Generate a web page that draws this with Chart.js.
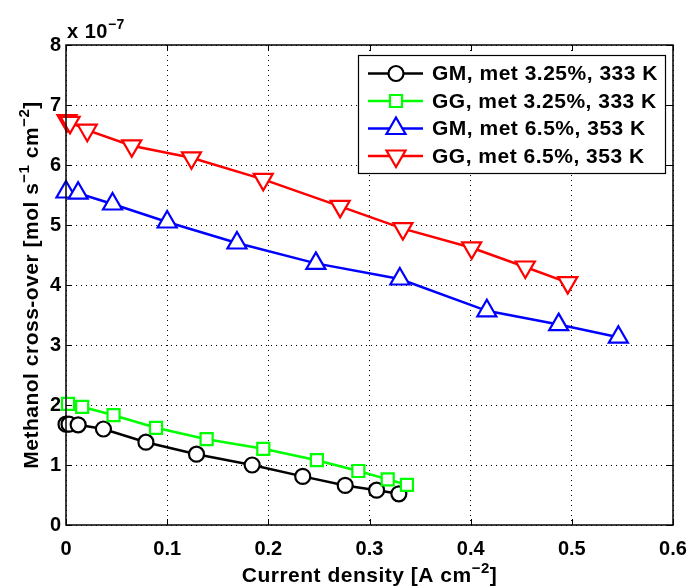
<!DOCTYPE html>
<html>
<head>
<meta charset="utf-8">
<script src="https://cdn.jsdelivr.net/npm/chart.js@4/dist/chart.umd.min.js"></script>
<style>
  body { margin: 0; background: #fff; }
  canvas { display: block; }
</style>
</head>
<body>
<canvas id="crossover" width="690" height="588"></canvas>
<script>
// Series labels
const seriesLabels = ["GM, met 3.25%, 333 K", "GG, met 3.25%, 333 K", "GM, met 6.5%, 353 K", "GG, met 6.5%, 353 K"];

// Current density [A cm^-2] per series
const gmLowX  = [0, 0.003, 0.012, 0.037, 0.079, 0.129, 0.184, 0.234, 0.276, 0.307, 0.329];
const ggLowX  = [0.002, 0.016, 0.047, 0.089, 0.139, 0.195, 0.248, 0.289, 0.318, 0.337];
const gmHighX = [0, 0.012, 0.046, 0.100, 0.169, 0.247, 0.330, 0.416, 0.487, 0.546];
const ggHighX = [0.001, 0.004, 0.021, 0.065, 0.124, 0.195, 0.271, 0.333, 0.401, 0.454, 0.496];

// Methanol cross-over (x 1e-7 mol s^-1 cm^-2)
const gmLowY  = [1.68, 1.68, 1.67, 1.60, 1.38, 1.18, 1.00, 0.81, 0.66, 0.58, 0.52];
const ggLowY  = [2.02, 1.97, 1.83, 1.62, 1.43, 1.27, 1.08, 0.90, 0.76, 0.67];
const gmHighY = [5.55, 5.53, 5.35, 5.05, 4.70, 4.36, 4.10, 3.57, 3.34, 3.13];
const ggHighY = [6.74, 6.71, 6.58, 6.32, 6.12, 5.76, 5.31, 4.94, 4.62, 4.30, 4.04];

// Axis ticks
const xTicks = [0, 0.1, 0.2, 0.3, 0.4, 0.5, 0.6];
const yTicks = [0, 1, 2, 3, 4, 5, 6, 7, 8];

const FONT = "'Liberation Sans', Arial, sans-serif";

function pts(xs, ys) {
    return xs.map((x, i) => ({ x: x, y: ys[i] }));
}

function series(label, xs, ys, color, style, radius, rotation, order) {
    return {
        label: label,
        data: pts(xs, ys),
        borderColor: color,
        backgroundColor: "#fff",
        borderWidth: 2.5,
        pointStyle: style,
        pointRadius: radius,
        pointRotation: rotation,
        pointBorderWidth: 2.2,
        pointBackgroundColor: "#fff",
        pointBorderColor: color,
        tension: 0,
        clip: false,
        order: order
    };
}

const datasets = [
    series(seriesLabels[0], gmLowX, gmLowY, "#000000", "circle", 7.5, 0, 3),
    series(seriesLabels[1], ggLowX, ggLowY, "#00ff00", "rect", 8.5, 0, 2),
    series(seriesLabels[2], gmHighX, gmHighY, "#0000ff", "triangle", 11, 0, 1),
    series(seriesLabels[3], ggHighX, ggHighY, "#ff0000", "triangle", 11, 180, 0)
];

// text with raised superscripts: parts = [[text, isSup], ...]
function partsWidth(ctx, parts, size) {
    let w = 0;
    parts.forEach(p => {
        ctx.font = "bold " + (p[1] ? Math.round(size * 0.7) : size) + "px " + FONT;
        w += ctx.measureText(p[0]).width;
    });
    return w;
}

function drawParts(ctx, parts, size, x, y) {
    parts.forEach(p => {
        ctx.font = "bold " + (p[1] ? Math.round(size * 0.7) : size) + "px " + FONT;
        ctx.fillText(p[0], x, p[1] ? y - size * 0.45 : y);
        x += ctx.measureText(p[0]).width;
    });
}

// Box, inward ticks, titles, exponent and legend, drawn like a MATLAB axes
const matlabFrame = {
    id: "matlabFrame",
    afterDraw(chart) {
        const ctx = chart.ctx;
        const a = chart.chartArea;
        const xs = chart.scales.x, ys = chart.scales.y;
        ctx.save();
        ctx.strokeStyle = "#000";
        ctx.lineWidth = 1.5;
        ctx.strokeRect(a.left, a.top, a.right - a.left, a.bottom - a.top);
        ctx.lineWidth = 1;
        ctx.beginPath();
        xTicks.forEach(t => {
            const px = Math.round(xs.getPixelForValue(t)) + 0.5;
            ctx.moveTo(px, a.bottom); ctx.lineTo(px, a.bottom - 6);
            ctx.moveTo(px, a.top); ctx.lineTo(px, a.top + 6);
        });
        yTicks.forEach(t => {
            const py = Math.round(ys.getPixelForValue(t)) + 0.5;
            ctx.moveTo(a.left, py); ctx.lineTo(a.left + 6, py);
            ctx.moveTo(a.right, py); ctx.lineTo(a.right - 6, py);
        });
        ctx.stroke();

        ctx.fillStyle = "#000";
        ctx.textBaseline = "alphabetic";
        ctx.textAlign = "left";
        ctx.letterSpacing = "0.5px";

        // exponent
        drawParts(ctx, [["x 10", false], ["\u22127", true]], 20, a.left + 1, 38);

        // x title
        const xt = [["Current density [A cm", false], ["\u22122", true], ["]", false]];
        const xw = partsWidth(ctx, xt, 21);
        drawParts(ctx, xt, 21, (a.left + a.right) / 2 - xw / 2, 582);

        // y title
        const yt = [["Methanol cross-over [mol s", false], ["\u22121", true], [" cm", false], ["\u22122", true], ["]", false]];
        const yw = partsWidth(ctx, yt, 21);
        ctx.save();
        ctx.translate(38, (a.top + a.bottom) / 2);
        ctx.rotate(-Math.PI / 2);
        drawParts(ctx, yt, 21, -yw / 2, 0);
        ctx.restore();

        // legend
        const lx = 358, ly = 55, lw = 307, lh = 118;
        ctx.fillStyle = "#fff";
        ctx.fillRect(lx, ly, lw, lh);
        ctx.lineWidth = 1.2;
        ctx.strokeStyle = "#000";
        ctx.strokeRect(lx + 0.5, ly + 0.5, lw, lh);
        chart.data.datasets.forEach((ds, i) => {
            const cy = 73.5 + i * 27.5;
            ctx.strokeStyle = ds.borderColor;
            ctx.lineWidth = 2.5;
            ctx.beginPath();
            ctx.moveTo(368, cy); ctx.lineTo(423, cy);
            ctx.stroke();
            ctx.fillStyle = "#fff";
            ctx.lineWidth = 2.2;
            Chart.helpers.drawPoint(ctx, {
                pointStyle: ds.pointStyle,
                rotation: ds.pointRotation,
                radius: ds.pointRadius,
                borderWidth: 2.2
            }, 396, cy);
            ctx.fillStyle = "#000";
            ctx.font = "bold 21px " + FONT;
            ctx.textBaseline = "middle";
            ctx.fillText(ds.label, 432, cy + 1);
        });
        ctx.restore();
    }
};

new Chart(document.getElementById("crossover"), {
    type: "line",
    data: { datasets: datasets },
    options: {
        responsive: false,
        animation: false,
        layout: { padding: { left: 0, right: 17, top: 45, bottom: 0 } },
        plugins: {
            legend: { display: false },
            tooltip: { enabled: false }
        },
        scales: {
            x: {
                type: "linear",
                min: 0,
                max: 0.6,
                afterBuildTicks: s => { s.ticks = xTicks.map(v => ({ value: v })); },
                afterFit: s => { s.height = 63; s.paddingRight = 0; s.paddingLeft = 0; },
                border: { display: false, dash: [1, 4] },
                grid: { color: "#000", lineWidth: 1, drawTicks: false },
                ticks: {
                    color: "#000",
                    padding: 12,
                    font: { family: FONT, size: 20, weight: "bold" },
                    callback: v => String(v)
                }
            },
            y: {
                type: "linear",
                min: 0,
                max: 8,
                afterBuildTicks: s => { s.ticks = yTicks.map(v => ({ value: v })); },
                afterFit: s => { s.width = 66; s.paddingTop = 0; s.paddingBottom = 0; },
                border: { display: false, dash: [1, 4] },
                grid: { color: "#000", lineWidth: 1, drawTicks: false },
                ticks: {
                    color: "#000",
                    padding: 5,
                    font: { family: FONT, size: 20, weight: "bold" }
                }
            }
        }
    },
    plugins: [matlabFrame]
});
</script>
</body>
</html>
